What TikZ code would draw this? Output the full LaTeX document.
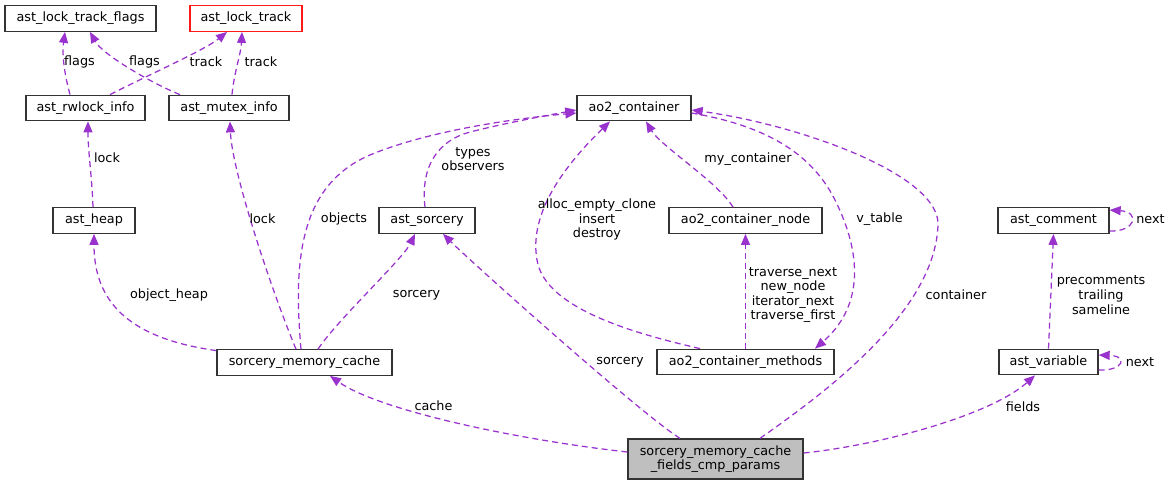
\documentclass[tikz,border=0pt]{standalone}
\usepackage{fontspec}
\setmainfont{DejaVu Sans}
\usetikzlibrary{arrows.meta,calc}
\definecolor{edgec}{HTML}{9A32CD}
\definecolor{boxgray}{HTML}{BFBFBF}
\newcommand\lblfont{\fontsize{12.8}{14.6}\selectfont}
\begin{document}
\begin{tikzpicture}[x=1pt,y=-1pt,
  cls/.style={draw=black!80,line width=1.3pt,minimum height=25.5pt,inner sep=0pt,font=\lblfont,text=black},
  lbl/.style={font=\lblfont,align=center,inner sep=0pt},
  dep/.style={draw=edgec,line width=1.25pt,dash pattern=on 6pt off 4pt,-{Triangle[length=11pt,width=9pt]}}]
\useasboundingbox (0,0) rectangle (1172,485);
% classes
\node[cls,minimum width=151pt] (ltf) at (80.5,18.5) {ast\_lock\_track\_flags};
\node[cls,draw=red!90,minimum width=112pt] (lt) at (246,18.5) {ast\_lock\_track};
\node[cls,minimum width=119pt] (rw) at (85.5,108) {ast\_rwlock\_info};
\node[cls,minimum width=120pt] (mx) at (229,108) {ast\_mutex\_info};
\node[cls,minimum width=82pt] (heap) at (94,220.5) {ast\_heap};
\node[cls,minimum width=175pt] (smc) at (304.5,362.5) {sorcery\_memory\_cache};
\node[cls,minimum width=96pt] (srt) at (427,220.5) {ast\_sorcery};
\node[cls,minimum width=114pt] (ao2) at (634,108) {ao2\_container};
\node[cls,minimum width=153pt] (acn) at (745.5,220.5) {ao2\_container\_node};
\node[cls,minimum width=177pt] (acm) at (745.5,362) {ao2\_container\_methods};
\node[cls,minimum width=111pt] (cm) at (1053.5,220.5) {ast\_comment};
\node[cls,minimum width=99pt] (var) at (1048.5,362) {ast\_variable};
\node[cls,fill=boxgray,minimum width=175pt,minimum height=40pt,align=center,font=\fontsize{12.8}{13.6}\selectfont] (fld) at (715.5,459) {sorcery\_memory\_cache\\\_fields\_cmp\_params};
% connectors
\draw[dep] ($(rw.north)+(-15.5,0)$) .. controls +(-6,-22) and +(-3,22) .. ($(ltf.south)+(-15.5,0)$);
\draw[dep] ($(mx.north)+(-49,0)$) .. controls +(-30,-12) and +(12,22) .. ($(ltf.south)+(9.5,0)$);
\draw[dep] ($(rw.north)+(24.5,0)$) .. controls +(35,-18) and +(-22,18) .. ($(lt.south)+(-19,0)$);
\draw[dep] ($(mx.north)+(3,0)$) .. controls +(2,-22) and +(-1,22) .. ($(lt.south)+(-4,0)$);
\draw[dep] ($(heap.north)+(-1,0)$) .. controls +(-1,-30) and +(0,30) .. ($(rw.south)+(2.5,0)$);
\draw[dep] ($(smc.north west)+(0,1.5)$) .. controls +(-85,-12) and +(0,70) .. (heap.south);
\draw[dep] ($(smc.north)+(-8.5,0)$) .. controls +(-25,-60) and +(2,50) .. ($(mx.south)+(1,0)$);
\draw[dep] ($(smc.north)+(-3.5,0)$) .. controls +(-8,-90) and +(-70,30) .. (370,155)
   .. controls +(60,-25) and +(-57,5) .. ($(ao2.west)+(0,5)$);
\draw[dep] ($(srt.north)+(-2,0)$) .. controls +(-5,-43) and +(-30,8) .. (470,132)
   .. controls +(40,-10) and +(-27,5) .. ($(ao2.west)+(0,2)$);
\draw[dep] ($(smc.north)+(13.5,0)$) .. controls +(20,-30) and +(-12,25) .. ($(srt.south)+(-12,0)$);
\draw[dep] ($(fld.north)+(-35.5,0)$) .. controls +(-40,-25) and +(25,25) .. ($(srt.south)+(16,0)$);
\draw[dep] ($(fld.west)+(0,-7)$) .. controls +(-108,-12) and +(50,35) .. ($(smc.south)+(25.5,0)$);
\draw[dep] ($(acm.north)+(-45.5,0)$) .. controls +(-60,-14) and +(8,50) .. (537,260)
   .. controls +(-9,-50) and +(-40,39) .. ($(ao2.south)+(-24,0)$);
\draw[dep] ($(acn.north)+(-12.5,0)$) .. controls +(-15,-25) and +(15,25) .. ($(ao2.south)+(12,0)$);
\draw[dep] ($(ao2.east)+(0,5)$) .. controls +(69,12) and +(-25,-50) .. (835,200)
   .. controls +(30,60) and +(45,-39) .. ($(acm.north)+(69.5,0)$);
\draw[dep] ($(fld.north)+(44.5,0)$) .. controls +(70,-49) and +(-3,85) .. (938,225)
   .. controls +(2,-50) and +(109,15) .. ($(ao2.east)+(0,2)$);
\draw[dep] (acm.north) -- (acn.south);
\draw[dep] (var.north) -- (cm.south);
\draw[dep] ($(cm.east)+(0,10.5)$) .. controls +(26,1) and +(31,2) .. ($(cm.east)+(0,-10.5)$);
\draw[dep] ($(var.east)+(0,8)$) .. controls +(25,1) and +(30,1) .. ($(var.east)+(0,-7)$);
\draw[dep] ($(fld.east)+(0,-6)$) .. controls +(77,-8) and +(-45,40) .. ($(var.south)+(-13.5,0)$);
% labels
\node[lbl] (l1) at (79.5,62) {flags};
\node[lbl] (l2) at (144.5,62) {flags};
\node[lbl] (l3) at (206,62) {track};
\node[lbl] (l4) at (261,62) {track};
\node[lbl] (l5) at (107,158) {lock};
\node[lbl] (l6) at (169,295) {object\_heap};
\node[lbl] (l7) at (262.5,219) {lock};
\node[lbl] (l8) at (344,219) {objects};
\node[lbl] (l9) at (473,159) {types\\observers};
\node[lbl] (l10) at (416.5,295) {sorcery};
\node[lbl] (l11) at (620,362) {sorcery};
\node[lbl] (l12) at (433.5,406) {cache};
\node[lbl] (l13) at (597,219.5) {alloc\_empty\_clone\\insert\\destroy};
\node[lbl] (l14) at (748,159) {my\_container};
\node[lbl] (l15) at (879.5,219) {v\_table};
\node[lbl] (l16) at (956,295) {container};
\node[lbl] (l17) at (793,295) {traverse\_next\\new\_node\\iterator\_next\\traverse\_first};
\node[lbl] (l18) at (1101,295) {precomments\\trailing\\sameline};
\node[lbl] (l19) at (1150.5,219) {next};
\node[lbl] (l20) at (1140,362) {next};
\node[lbl] (l21) at (1023,407) {fields};
\end{tikzpicture}
\end{document}
